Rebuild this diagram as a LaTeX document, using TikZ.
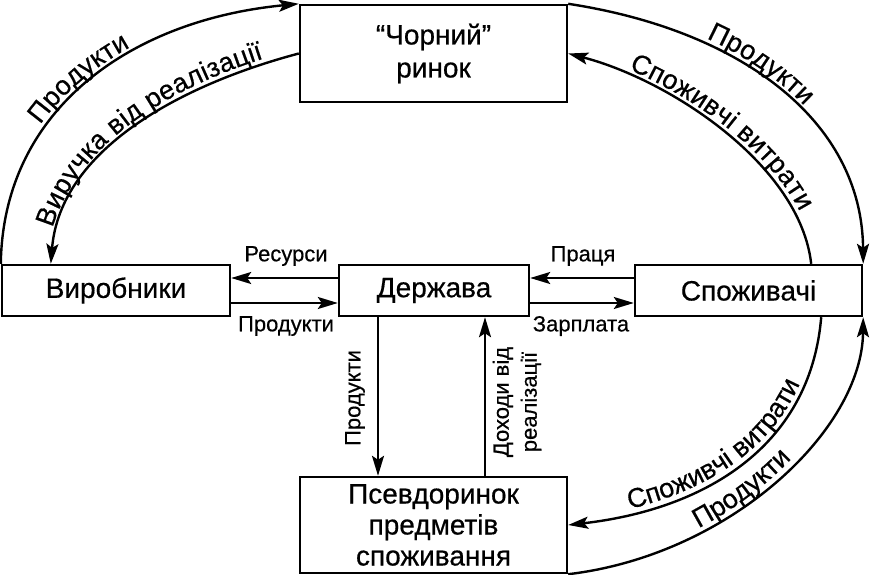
\documentclass[tikz,border=0pt]{standalone}
\usepackage{fontspec}
\setmainfont{Liberation Sans}[BoldFont={Liberation Sans},BoldFeatures={FakeBold=0.5}]
\usepackage{tikz}
\usetikzlibrary{arrows.meta,decorations.text}

\newcommand\boxfont{\fontsize{28}{31}\selectfont\bfseries}
\newcommand\labfont{\fontsize{22}{28}\selectfont\bfseries}
\newcommand\arcfont{\fontsize{27}{30}\selectfont\bfseries}

\begin{document}
\begin{tikzpicture}[x=1pt,y=-1pt,line width=2.4pt,
  every node/.style={inner sep=0pt,align=center},
  box/.style={draw,minimum width=#1,font=\boxfont},
  lab/.style={font=\labfont},
  arr/.style={-{Stealth[length=20pt,width=12pt,inset=4pt]}},
  rarr/.style={{Stealth[length=20pt,width=12pt,inset=4pt]}-}]
  \useasboundingbox (0,0) rectangle (870,575);

  \node (chorn)[box=267pt,minimum height=97pt] at (433.5,53.5) {“Чорний”\\[2pt]ринок};
  \node (vyr)[box=228pt,minimum height=51pt] at (116,290.5) {Виробники};
  \node (derzh)[box=190pt,minimum height=51pt] at (434,290.5) {Держава};
  \node (spozh)[box=227pt,minimum height=51pt] at (748.5,290.5) {Споживачі};
  \node (psevdo)[box=267pt,minimum height=96pt] at (433.5,525) {Псевдоринок\\предметів\\споживання};

  \node (res)[lab] at (286,256) {Ресурси};
  \node (prodh)[lab] at (286,326) {Продукти};
  \node (pracia)[lab] at (583,256) {Праця};
  \node (zarpl)[lab] at (581,326) {Зарплата};
  \node (prodv)[lab,rotate=90] at (355,398) {Продукти};
  \node (dohv)[lab,rotate=90] at (517,402) {Доходи від\\реалізації};

  \draw[arr] ([yshift=12.5pt]derzh.west) -- ([yshift=12.5pt]vyr.east);
  \draw[arr] ([yshift=-12.5pt]vyr.east) -- ([yshift=-12.5pt]derzh.west);
  \draw[arr] ([yshift=12.5pt]spozh.west) -- ([yshift=12.5pt]derzh.east);
  \draw[arr] ([yshift=-12.5pt]derzh.east) -- ([yshift=-12.5pt]spozh.west);
  \draw[arr] ([xshift=-56pt]derzh.south) -- ([xshift=-56pt]derzh.south |- psevdo.north);
  \draw[arr] ([xshift=51pt]derzh.south |- psevdo.north) -- ([xshift=51pt]derzh.south);

  % curved flows
  \draw[arr] (vyr.north west) .. controls (3,110) and (130,20) .. (chorn.north west);
  \draw[rarr] ([xshift=50pt]vyr.north west) .. controls (60,150) and (180,85) .. (chorn.west);
  \draw[arr] (chorn.north east) .. controls (740,30) and (862,120) .. (spozh.north east);
  \draw[rarr] (chorn.east) .. controls (670,80) and (800,165) .. ([xshift=-52pt]spozh.north east);
  \draw[arr] (psevdo.south east) .. controls (730,555) and (862,430) .. (spozh.south east);
  \draw[rarr] (psevdo.east) .. controls (700,510) and (810,450) .. ([xshift=-42pt]spozh.south east);

  % curved labels
  \path[decorate,decoration={text along path,raise=5pt,text align={left indent=145pt},
    text={|\arcfont|Продукти}}]
    (vyr.north west) .. controls (3,110) and (130,20) .. (chorn.north west);
  \path[decorate,decoration={text along path,raise=5pt,text align=center,
    text={|\arcfont|Виручка від реалізації}}]
    ([xshift=50pt]vyr.north west) .. controls (60,150) and (180,85) .. (chorn.west);
  \path[decorate,decoration={text along path,raise=5pt,text align={left indent=142pt},
    text={|\arcfont|Продукти}}]
    (chorn.north east) .. controls (740,30) and (862,120) .. (spozh.north east);
  \path[decorate,decoration={text along path,raise=5pt,text align={left indent=62pt},
    text={|\arcfont|Споживчі витрати}}]
    (chorn.east) .. controls (670,80) and (800,165) .. ([xshift=-52pt]spozh.north east);
  \path[decorate,decoration={text along path,raise=5pt,text align={left indent=140pt},
    text={|\arcfont|Продукти}}]
    (psevdo.south east) .. controls (730,555) and (862,430) .. (spozh.south east);
  \path[decorate,decoration={text along path,raise=5pt,text align={left indent=64pt},
    text={|\arcfont|Споживчі витрати}}]
    (psevdo.east) .. controls (700,510) and (810,450) .. ([xshift=-42pt]spozh.south east);
\end{tikzpicture}
\end{document}
